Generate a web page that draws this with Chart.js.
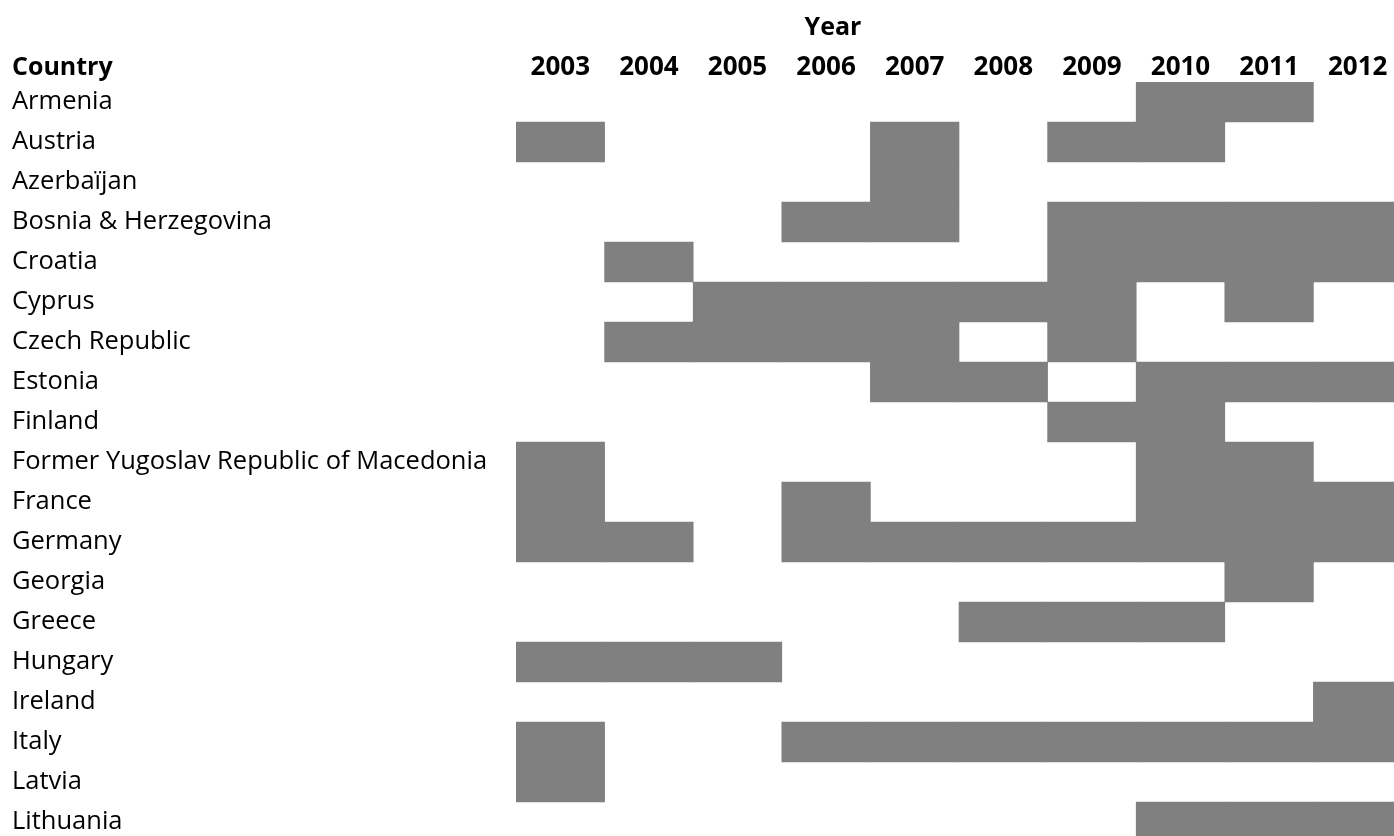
<!DOCTYPE html>
<html>
<head>
<meta charset="utf-8">
<script src="https://cdn.jsdelivr.net/npm/chart.js@4/dist/chart.umd.min.js"></script>
<style>
  html, body { margin: 0; padding: 0; background: #fff; overflow: hidden; }
  canvas { display: block; }
</style>
</head>
<body>
<canvas id="grid" width="1402" height="842"></canvas>
<script>
const countries = ['Armenia', 'Austria', 'Azerbaïjan', 'Bosnia & Herzegovina', 'Croatia', 'Cyprus',
  'Czech Republic', 'Estonia', 'Finland', 'Former Yugoslav Republic of Macedonia', 'France', 'Germany',
  'Georgia', 'Greece', 'Hungary', 'Ireland', 'Italy', 'Latvia', 'Lithuania'];
const years = [2003, 2004, 2005, 2006, 2007, 2008, 2009, 2010, 2011, 2012];
// years marked for each country, same order as countries
const activeYears = [
  [2010, 2011],
  [2003, 2007, 2009, 2010],
  [2007],
  [2006, 2007, 2009, 2010, 2011, 2012],
  [2004, 2009, 2010, 2011, 2012],
  [2005, 2006, 2007, 2008, 2009, 2011],
  [2004, 2005, 2006, 2007, 2009],
  [2007, 2008, 2010, 2011, 2012],
  [2009, 2010],
  [2003, 2010, 2011],
  [2003, 2006, 2010, 2011, 2012],
  [2003, 2004, 2006, 2007, 2008, 2009, 2010, 2011, 2012],
  [2011],
  [2008, 2009, 2010],
  [2003, 2004, 2005],
  [2012],
  [2003, 2006, 2007, 2008, 2009, 2010, 2011, 2012],
  [2003],
  [2010, 2011, 2012]
];

const FONT = "'Open Sans', sans-serif";

// header texts that sit outside the axes
const headers = {
  id: 'headers',
  afterDraw(chart) {
    const ctx = chart.ctx;
    ctx.save();
    ctx.font = 'bold 25px ' + FONT;
    ctx.fillStyle = '#000';
    ctx.textBaseline = 'middle';
    ctx.textAlign = 'left';
    ctx.fillText('Country', 12, 68);
    ctx.textAlign = 'center';
    ctx.fillText('Year', 833, 28);
    ctx.restore();
  }
};

new Chart(document.getElementById('grid'), {
  type: 'bar',
  data: {
    labels: countries,
    datasets: years.map(y => ({
      label: String(y),
      data: activeYears.map(list => list.includes(y) ? [y - 0.5, y + 0.5] : null),
      backgroundColor: '#808080',
      borderWidth: 0,
      grouped: false,
      barPercentage: 1,
      categoryPercentage: 1
    }))
  },
  options: {
    indexAxis: 'y',
    responsive: false,
    animation: false,
    devicePixelRatio: 1,
    layout: { padding: { left: 12, top: 0, right: 0, bottom: 0 } },
    plugins: {
      legend: { display: false },
      tooltip: { enabled: false }
    },
    scales: {
      x: {
        type: 'linear',
        position: 'top',
        min: 2002.5,
        max: 2012.5,
        grid: { display: false },
        border: { display: false },
        afterBuildTicks: s => { s.ticks = years.map(v => ({ value: v })); },
        afterFit: s => { s.height = 82; s.paddingLeft = 0; s.paddingRight = 0; },
        ticks: {
          autoSkip: false,
          maxRotation: 0,
          padding: -9,
          color: '#000',
          font: { family: FONT, size: 26, weight: 'bold' },
          callback: v => String(v)
        }
      },
      y: {
        grid: { display: false },
        border: { display: false },
        afterFit: s => { s.width = 504; s.paddingTop = 0; s.paddingBottom = 0; },
        ticks: {
          autoSkip: false,
          crossAlign: 'far',
          color: '#000',
          font: { family: FONT, size: 25.5 }
        }
      }
    }
  },
  plugins: [headers]
});
</script>
</body>
</html>
